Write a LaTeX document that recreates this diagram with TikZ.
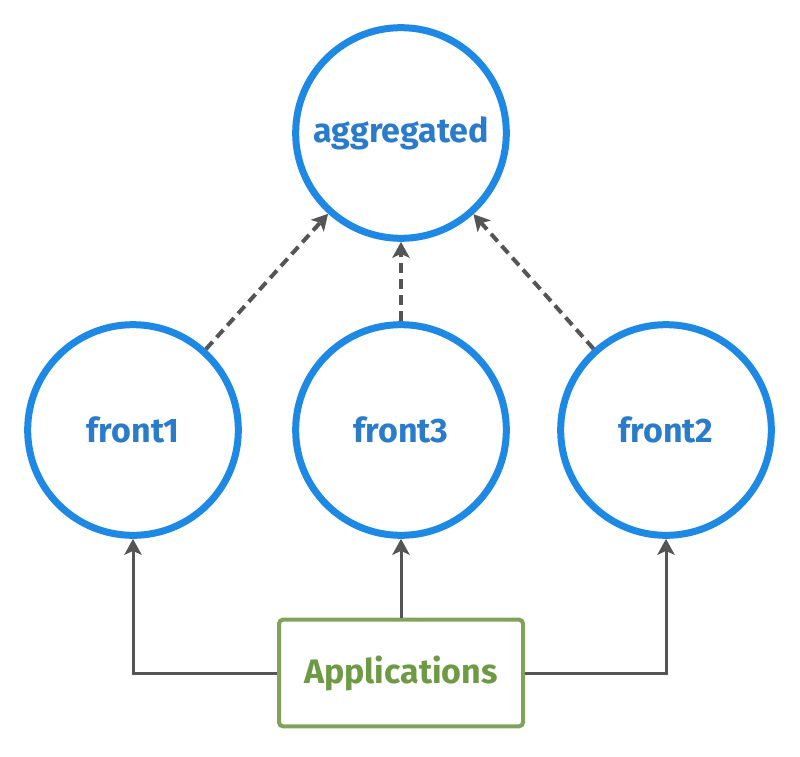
\documentclass[tikz,border=0pt]{standalone}
\usepackage{fontspec}
\setmainfont{Fira Sans}
\usetikzlibrary{arrows.meta}
\definecolor{cblue}{HTML}{1E88E5}
\definecolor{tblue}{HTML}{2B7BCB}
\definecolor{cgreen}{HTML}{7FA35A}
\definecolor{tgreen}{HTML}{6E9A45}
\definecolor{agray}{HTML}{555555}
\begin{document}
\begin{tikzpicture}[x=0.75pt,y=-0.75pt,
  circ/.style={circle,draw=cblue,line width=5.25pt,minimum size=158pt,inner sep=0pt,
    text=tblue,font=\bfseries\fontsize{25.5}{30}\selectfont},
  appbox/.style={rectangle,draw=cgreen,line width=3pt,rounded corners=3pt,
    minimum width=183pt,minimum height=80pt,text=tgreen,font=\bfseries\fontsize{25.5}{30}\selectfont},
  dasharrow/.style={draw=agray,line width=3pt,dash pattern=on 7.5pt off 4.5pt,
    -{Stealth[length=12pt,width=13pt,inset=3pt]}},
  solidarrow/.style={draw=agray,line width=2.25pt,
    -{Stealth[length=12pt,width=13pt,inset=3pt]}}]
\useasboundingbox (0,0) rectangle (800,757);
\node[circ] (agg) at (401,133) {aggregated};
\node[circ] (f1) at (133,430) {front1};
\node[circ] (f3) at (401,430) {front3};
\node[circ] (f2) at (666,430) {front2};
\node[appbox] (app) at (401,673) {Applications};
\draw[dasharrow] (f1) -- (agg);
\draw[dasharrow] (f3) -- (agg);
\draw[dasharrow] (f2) -- (agg);
\draw[solidarrow] (app.north) -- (f3);
\draw[solidarrow] (app.west) -| (f1);
\draw[solidarrow] (app.east) -| (f2);
\end{tikzpicture}
\end{document}
